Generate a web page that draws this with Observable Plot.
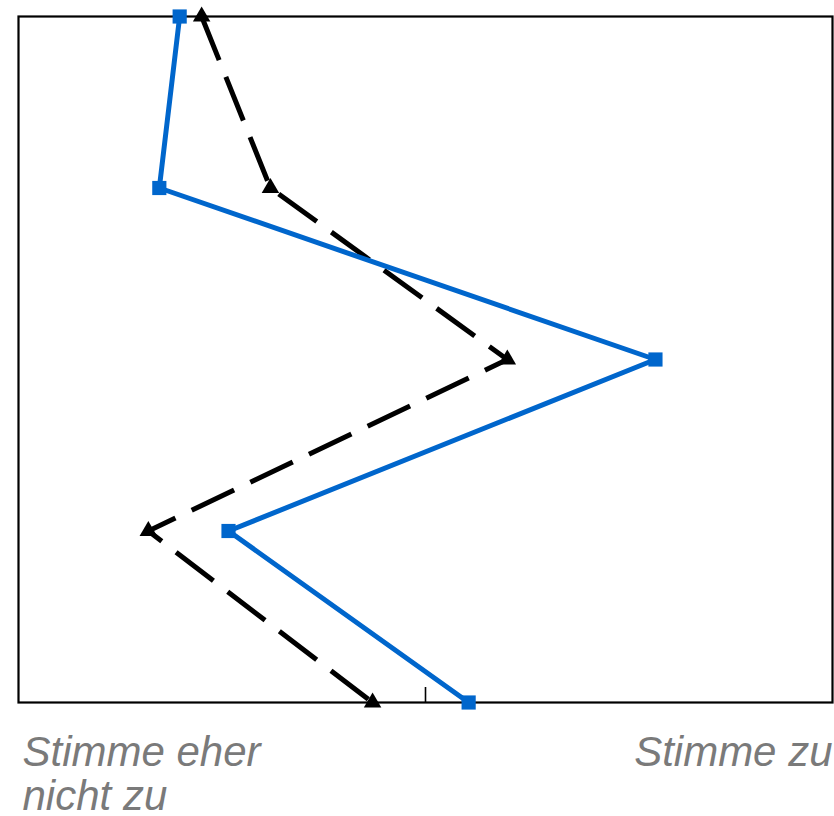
<!DOCTYPE html>
<html>
<head>
<meta charset="utf-8">
<script src="https://cdn.jsdelivr.net/npm/d3@7"></script>
<script src="https://cdn.jsdelivr.net/npm/@observablehq/plot@0.6"></script>
<style>
  html, body { margin: 0; padding: 0; background: #fff; }
  svg { display: block; }
</style>
</head>
<body>
<div id="chart"></div>
<script>
// Rows (top to bottom)
const rows = [1, 2, 3, 4, 5];
// Blue series (solid, squares)
const blueValues = [2.396, 2.346, 3.565, 2.516, 3.106];
// Black series (dashed, triangles)
const blackValues = [2.450, 2.619, 3.201, 2.319, 2.870];
// Scale labels
const scaleTicks = [2, 4];
const scaleLabels = ["Stimme eher\nnicht zu", "Stimme zu"];
const midTick = [3];

const blue = rows.map((r, i) => ({row: r, value: blueValues[i]}));
const black = rows.map((r, i) => ({row: r, value: blackValues[i]}));
const labels = scaleTicks.map((t, i) => ({x: t, label: scaleLabels[i]}));

const chart = Plot.plot({
  width: 834,
  height: 816,
  marginTop: 16,
  marginRight: 2,
  marginLeft: 18,
  marginBottom: 114,
  style: {fontFamily: "'Liberation Sans', Arial, sans-serif", background: "#fff"},
  x: {domain: [2, 4], axis: null},
  y: {domain: [5, 1], axis: null},
  marks: [
    Plot.frame({stroke: "#000", strokeWidth: 2.2}),
    Plot.ruleX(midTick, {y1: 5, y2: 5 - 15 / 171.5, stroke: "#000", strokeWidth: 1.6}),
    Plot.line(black, {x: "value", y: "row", stroke: "#000", strokeWidth: 5, strokeDasharray: "47,18", strokeLinecap: "butt"}),
    Plot.dot(black, {x: "value", y: "row", symbol: "triangle", r: 6.5, fill: "#000", stroke: "none"}),
    Plot.line(blue, {x: "value", y: "row", stroke: "#0066cc", strokeWidth: 5}),
    Plot.dot(blue, {x: "value", y: "row", symbol: "square", r: 8, fill: "#0066cc", stroke: "none"}),
    Plot.text(labels.slice(0, 1), {x: "x", text: "label", frameAnchor: "bottom", textAnchor: "start", lineAnchor: "top", dx: 4, dy: 32, fontSize: 42, fontStyle: "italic", fill: "#7a7a7a", lineHeight: 1.05}),
    Plot.text(labels.slice(1), {x: "x", text: "label", frameAnchor: "bottom", textAnchor: "end", lineAnchor: "top", dx: 0, dy: 32, fontSize: 42, fontStyle: "italic", fill: "#7a7a7a", lineHeight: 1.05})
  ]
});
document.getElementById("chart").appendChild(chart);
</script>
</body>
</html>
